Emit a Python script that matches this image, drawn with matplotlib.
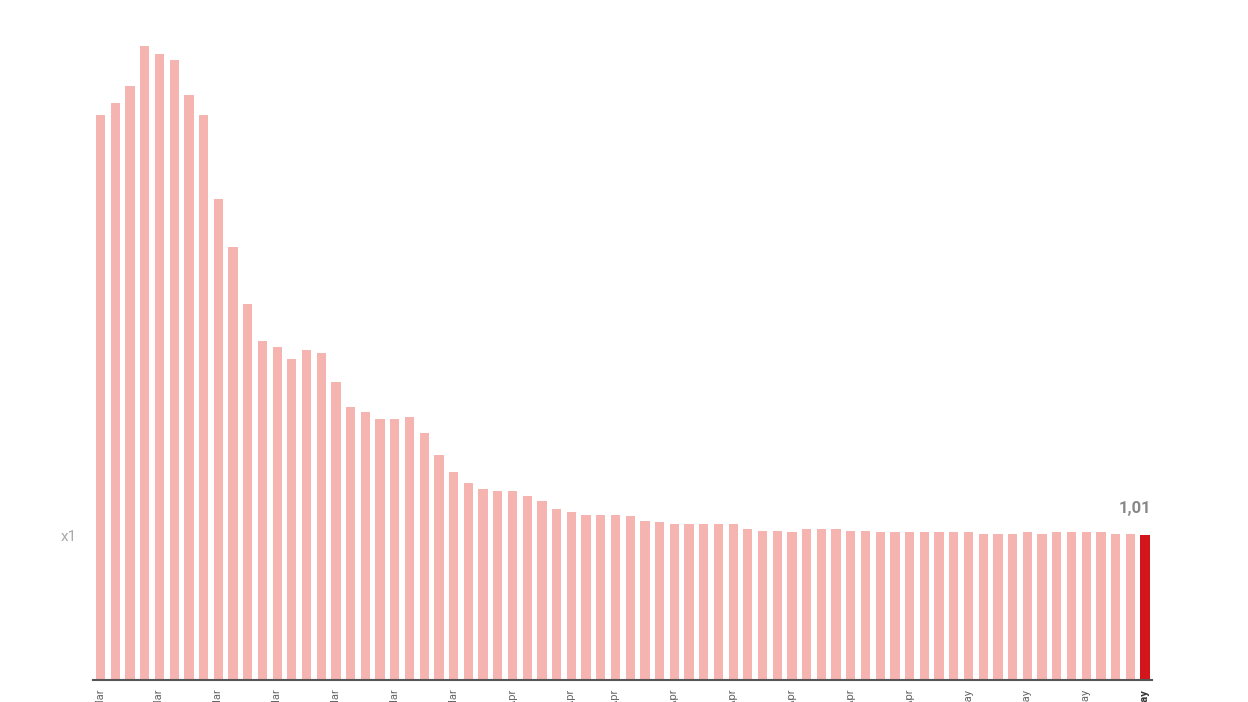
import matplotlib
matplotlib.use("Agg")
import matplotlib.pyplot as plt
import numpy as np

# Daily values (last one highlighted)
values = [3.94, 4.02, 4.14, 4.42, 4.36, 4.32, 4.08, 3.94, 3.35, 3.02,
          2.62, 2.36, 2.32, 2.24, 2.30, 2.28, 2.08, 1.90, 1.87, 1.82,
          1.82, 1.83, 1.72, 1.57, 1.45, 1.37, 1.33, 1.32, 1.32, 1.28,
          1.25, 1.19, 1.17, 1.15, 1.15, 1.15, 1.14, 1.11, 1.10, 1.09,
          1.09, 1.09, 1.09, 1.09, 1.05, 1.04, 1.04, 1.03, 1.05, 1.05,
          1.05, 1.04, 1.04, 1.03, 1.03, 1.03, 1.03, 1.03, 1.03, 1.03,
          1.02, 1.02, 1.02, 1.03, 1.02, 1.03, 1.03, 1.03, 1.03, 1.02,
          1.02, 1.01]

# tick positions (bar index) and their date labels
tick_idx = [0, 4, 8, 12, 16, 20, 24, 28, 32, 35, 39, 43, 47, 51, 55, 59, 63, 67, 71]
tick_labels = ["4 Mar", "8 Mar", "12 Mar", "16 Mar", "20 Mar", "24 Mar", "28 Mar",
               "1 Apr", "5 Apr", "9 Apr", "13 Apr", "17 Apr", "21 Apr", "25 Apr",
               "29 Apr", "3 May", "7 May", "11 May", "15 May"]

last_label = "1,01"

plt.rcParams["font.family"] = ["Roboto", "DejaVu Sans"]

fig = plt.figure(figsize=(12.48, 7.02), dpi=100)
ax = fig.add_axes([0.0745, 0.0313, 0.8483, 0.9402])

x = np.arange(len(values))
colors = ["#f6b4b0"] * (len(values) - 1) + ["#d3161c"]
ax.bar(x, values, width=0.63, color=colors, zorder=2)

ax.set_xlim(-0.52, len(values) - 1 + 0.45)
ax.set_ylim(0, 4.6)

for s in ["top", "right", "left"]:
    ax.spines[s].set_visible(False)
ax.spines["bottom"].set_color("#555555")
ax.spines["bottom"].set_linewidth(1.5)
ax.spines["bottom"].set_zorder(3)

ax.set_yticks([])
ax.set_xticks(tick_idx)
ax.set_xticklabels(tick_labels, rotation=90, fontsize=8, color="#666666", va="top")
ax.tick_params(axis="x", length=0, pad=7)
ax.get_xticklabels()[-1].set_fontweight("bold")
ax.get_xticklabels()[-1].set_color("#333333")

# reference level label
ax.text(-1.65, 1.0, "x1", fontsize=11, color="#aaaaaa", ha="right", va="center")

# value of last bar
ax.annotate(last_label, xy=(len(values) - 1 + 0.45, values[-1]), xytext=(0, 14),
            textcoords="offset points", ha="right", va="bottom",
            fontsize=12, fontweight="bold", color="#888888")

fig.savefig("out.png", dpi=100)
